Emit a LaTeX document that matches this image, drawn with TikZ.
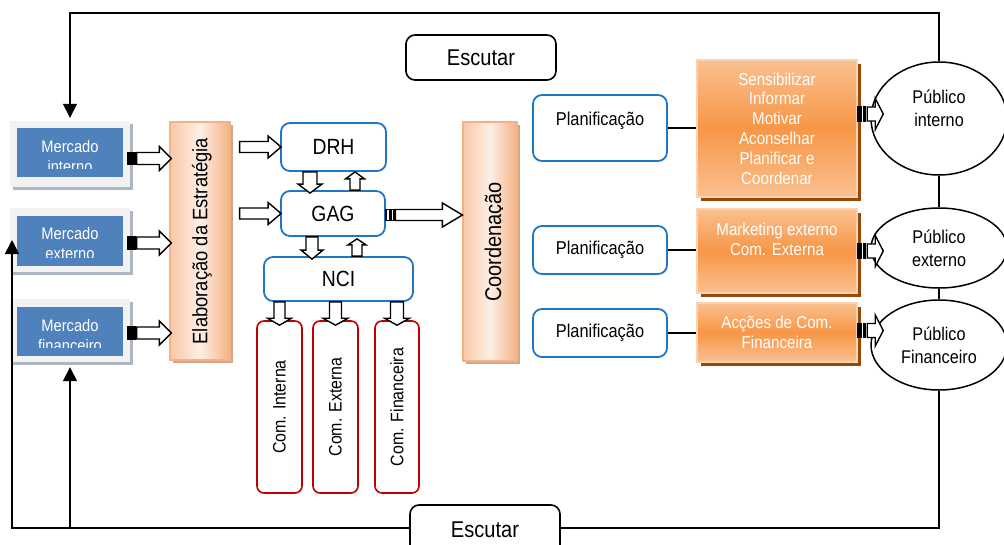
\documentclass[tikz,border=0pt]{standalone}
\usepackage{fontspec}
\setmainfont{Liberation Sans}[FakeStretch=0.88]
\usetikzlibrary{arrows.meta, calc, shapes.geometric, shadows}
\definecolor{mblue}{HTML}{4F81BD}
\definecolor{framegray}{HTML}{F2F2F2}
\definecolor{mshade}{HTML}{AEB6C4}
\definecolor{peach}{HTML}{F4B183}
\definecolor{peachlight}{HTML}{FDEFE6}
\definecolor{peachedge}{HTML}{F8C8A6}
\definecolor{peachshade}{HTML}{CFA88C}
\definecolor{orng}{HTML}{F79646}
\definecolor{orngtop}{HTML}{FAC090}
\definecolor{orngedge}{HTML}{FBD3B1}
\definecolor{orngdark}{HTML}{984807}
\definecolor{boxblue}{HTML}{1F77C9}
\definecolor{comred}{HTML}{C00000}

% hollow block arrow: [opts]{tail}{tip}{half shaft}{half head}{head length}
\newcommand{\blockarrow}[6][]{%
  \coordinate (ba) at ($(#3)!#6pt!(#2)$);
  \draw[blockarr, #1] ($(#2)!#4pt!90:(#3)$) -- ($(ba)!#4pt!90:(#3)$)
    -- ($(ba)!#5pt!90:(#3)$) -- (#3) -- ($(ba)!#5pt!-90:(#3)$)
    -- ($(ba)!#4pt!-90:(#3)$) -- ($(#2)!#4pt!-90:(#3)$) -- cycle;%
}
% same with two stripes at the tail (rightwards only)
\newcommand{\stripedarrow}[6][black]{%
  \draw[blockarr, fill=#1] ($(#2)+(0,-#4)$) rectangle ($(#2)+(4,#4)$);
  \draw[blockarr, fill=#1] ($(#2)+(5.5,-#4)$) rectangle ($(#2)+(8,#4)$);
  \coordinate (sa) at ($(#2)+(9.5,0)$);
  \blockarrow{sa}{#3}{#4}{#5}{#6}%
}

\begin{document}
\begin{tikzpicture}[
    x=1pt, y=-1pt,
    loopline/.style={line width=1.6pt},
    looparrow/.style={loopline, -{Triangle[width=14pt, length=14pt]}},
    blockarr/.style={draw=black, fill=white, line width=1.4pt},
    mframe/.style={fill=framegray, minimum width=120pt, inner sep=0pt,
        drop shadow={shadow xshift=3pt, shadow yshift=-3pt, opacity=1, fill=mshade}},
    mbox/.style={fill=mblue, minimum width=106pt, inner sep=0pt},
    mtext/.style={white, align=center, inner sep=0pt, font=\fontsize{16.7}{20}\selectfont},
    peachbox/.style={draw=peach, line width=1.2pt, left color=peachedge, right color=peach,
        middle color=peachlight, inner sep=0pt,
        drop shadow={shadow xshift=3pt, shadow yshift=-3pt, opacity=1, fill=peachshade}},
    vtext/.style={rotate=90, inner sep=0pt},
    bluebox/.style={draw=boxblue, line width=1.8pt, rounded corners=9pt, fill=white, inner sep=0pt},
    unit/.style={bluebox, minimum height=45pt, font=\fontsize{22}{24}\selectfont},
    plan/.style={bluebox, minimum width=134pt, minimum height=48pt, font=\fontsize{18.6}{20}\selectfont},
    combox/.style={draw=comred, line width=1.6pt, rounded corners=7pt, fill=white, inner sep=0pt,
        rotate=90, minimum width=172pt, minimum height=45pt, font=\fontsize{18.1}{20}\selectfont},
    listen/.style={draw, line width=1.6pt, rounded corners=9pt, fill=white, minimum width=150pt,
        font=\fontsize{22.8}{24}\selectfont},
    action/.style={draw=orngedge, line width=1.5pt, top color=orngtop, bottom color=orngtop,
        middle color=orng, text=white, align=center, minimum width=160pt, inner sep=0pt,
        font=\fontsize{17.2}{19.8}\selectfont,
        drop shadow={shadow xshift=4pt, shadow yshift=-4pt, opacity=1, fill=orngdark}},
    publico/.style={ellipse, draw, line width=1.5pt, fill=white, minimum width=136pt,
        align=center, inner sep=0pt, font=\fontsize{18.4}{23}\selectfont},
]
\useasboundingbox (0,0) rectangle (1004,544);

% =============================================
% MARKETS (left column)
% =============================================
\node[mframe, minimum height=66pt] (mi) at (70,154) {};
\node[mframe, minimum height=64pt] (me) at (70,240) {};
\node[mframe, minimum height=63pt] (mf) at (70,330.5) {};
\node[mbox, minimum height=49pt] (mib) at (70,152.5) {};
\node[mbox, minimum height=50pt] (meb) at (70,241) {};
\node[mbox, minimum height=49pt] (mfb) at (70,331.5) {};

% labels are cut at the bottom of their text frame
\begin{scope}
  \clip (mib.north west) rectangle ($(mib.south east)+(0,-9)$);
  \node[mtext, anchor=north] (mit) at (70,140.5) {Mercado\\interno};
\end{scope}
\begin{scope}
  \clip (meb.north west) rectangle ($(meb.south east)+(0,-9)$);
  \node[mtext, anchor=north] (met) at (70,227.5) {Mercado\\externo};
\end{scope}
\begin{scope}
  \clip (mfb.north west) rectangle ($(mfb.south east)+(0,-9)$);
  \node[mtext, anchor=north] (mft) at (70,319) {Mercado\\financeiro};
\end{scope}

% =============================================
% STRATEGY, UNITS, COORDINATION
% =============================================
\node[peachbox, minimum width=60pt, minimum height=238pt] (elab) at (200,241) {};
\node[vtext, font=\fontsize{20.9}{22}\selectfont] (elabt) at (202,241) {Elaboração da Estratégia};

\node[unit, minimum width=105pt, minimum height=48pt] (drh) at (333.5,147) {DRH};
\node[unit, minimum width=104pt] (gag) at (333,213.5) {GAG};
\node[unit, minimum width=149pt, minimum height=44pt] (nci) at (338.5,279) {NCI};

\node[combox] (ci) at (279.5,407) {Com. Interna};
\node[combox] (ce) at (335.5,407) {Com. Externa};
\node[combox, minimum height=44pt] (cf) at (397,407) {Com. Financeira};

\node[peachbox, minimum width=54pt, minimum height=239pt] (coord) at (490,241.5) {};
\begin{scope}
  \clip (coord.north west) rectangle (502,361);
  \node[vtext, anchor=base, font=\fontsize{22.7}{24}\selectfont] (coordt) at (501,242) {Coordenação};
\end{scope}

% =============================================
% PLANNING, ACTIONS, AUDIENCES
% =============================================
\node[listen, minimum height=45pt] (esct) at (481,57.5) {Escutar};

\node[plan, minimum height=66pt, text depth=18pt] (pl1) at (600,128) {Planificação};
\node[plan] (pl2) at (600,250) {Planificação};
\node[plan] (pl3) at (600,333) {Planificação};

\node[action, minimum height=137pt] (ob1) at (777,128.5)
  {Sensibilizar\\Informar\\Motivar\\Aconselhar\\Planificar e\\Coordenar};
\node[action, minimum height=84pt, text depth=24pt] (ob2) at (777,251)
  {Marketing externo\\Com. Externa};
\node[action, minimum height=59pt] (ob3) at (777,332.5) {Acções de Com.\\Financeira};

\node[publico, minimum height=113pt, text depth=20pt] (pi) at (939,118.5) {Público\\interno};
\node[publico, minimum height=80pt] (pe) at (939,248) {Público\\externo};
\node[publico, minimum height=90pt] (pf) at (939,345) {Público\\Financeiro};

% =============================================
% LISTENING LOOP
% =============================================
\coordinate (tl) at (70,13);
\coordinate (bl) at (12,528);
\draw[looparrow, shorten >=3pt] (pi.north) |- (tl) -- (mi.north);
\draw[looparrow] (pf.south) |- (bl) -- (bl |- me.west);
\draw[looparrow, shorten >=5pt] (mf.south |- bl) -- (mf.south);
\draw[loopline] (pi.south) -- (pe.north);
\draw[loopline] (pe.south) -- (pf.north);
\node[listen, minimum height=50pt] (escb) at (485,530) {Escutar};

\draw[loopline] (pl1.east) -- (pl1.east -| ob1.west);
\draw[loopline] (pl2.east) -- (pl2.east -| ob2.west);
\draw[loopline] (pl3.east) -- (pl3.east -| ob3.west);

% =============================================
% BLOCK ARROWS
% =============================================
% markets -> strategy
\coordinate (a1) at ($(mi.east)+(-3,4.5)$);
\coordinate (a2) at ($(me.east)+(-3,3)$);
\coordinate (a3) at ($(mf.east)+(-3,2.5)$);
\coordinate (a1e) at ($(elab.west |- a1)+(2,0)$);
\coordinate (a2e) at ($(elab.west |- a2)+(2,0)$);
\coordinate (a3e) at ($(elab.west |- a3)+(2,0)$);
\stripedarrow{a1}{a1e}{6}{12}{12}
\stripedarrow{a2}{a2e}{6}{12}{12}
\stripedarrow{a3}{a3e}{6}{12}{12}

% strategy -> units
\coordinate (b1) at ($(elab.east |- drh.west)+(9,0)$);
\coordinate (b1e) at ($(drh.west)+(1,0)$);
\coordinate (b2) at ($(elab.east |- gag.west)+(9,0)$);
\coordinate (b2e) at ($(gag.west)+(1,0)$);
\blockarrow{b1}{b1e}{5.5}{11}{13}
\blockarrow{b2}{b2e}{5.5}{11}{13}

% between units
\coordinate (c1) at ($(drh.south)+(-23.5,0)$);
\coordinate (c1e) at ($(gag.north)+(-23,3)$);
\coordinate (c2) at ($(gag.north)+(22,0)$);
\coordinate (c2e) at ($(drh.south)+(21.5,0)$);
\coordinate (c3) at ($(gag.south)+(-21,0)$);
\coordinate (c3e) at ($(nci.north)+(-26.5,3)$);
\coordinate (c4) at ($(nci.north)+(18.5,0)$);
\coordinate (c4e) at ($(gag.south)+(24,2)$);
\blockarrow{c1}{c1e}{7}{12}{9}
\blockarrow{c2}{c2e}{5}{9.5}{7}
\blockarrow{c3}{c3e}{6}{11}{9}
\blockarrow{c4}{c4e}{5}{9}{6}

% NCI -> communication
\coordinate (d1) at (ci.east |- nci.south);
\coordinate (d2) at (ce.east |- nci.south);
\coordinate (d3) at (cf.east |- nci.south);
\coordinate (d1e) at ($(ci.east)+(0,5)$);
\coordinate (d2e) at ($(ce.east)+(0,5)$);
\coordinate (d3e) at ($(cf.east)+(0,5)$);
\blockarrow{d1}{d1e}{5.5}{12}{7}
\blockarrow{d2}{d2e}{6}{12.5}{7}
\blockarrow{d3}{d3e}{6.5}{12.5}{7}

% GAG -> coordination
\coordinate (e1) at ($(gag.east)+(0,1.5)$);
\coordinate (e1e) at (coord.west |- e1);
\stripedarrow[white]{e1}{e1e}{5.5}{12}{20}

% actions -> audiences
\coordinate (f1) at ($(ob1.east)+(0,-14.5)$);
\coordinate (f2) at (ob2.east);
\coordinate (f3) at ($(ob3.east)+(0,-2)$);
\coordinate (f1e) at ($(pi.west |- f1)+(13,0)$);
\coordinate (f2e) at ($(pe.west |- f2)+(13,0)$);
\coordinate (f3e) at ($(pf.west |- f3)+(13,0)$);
\stripedarrow{f1}{f1e}{7}{15.5}{8}
\stripedarrow{f2}{f2e}{7}{15.5}{8}
\stripedarrow{f3}{f3e}{7}{15.5}{8}

\end{tikzpicture}
\end{document}
